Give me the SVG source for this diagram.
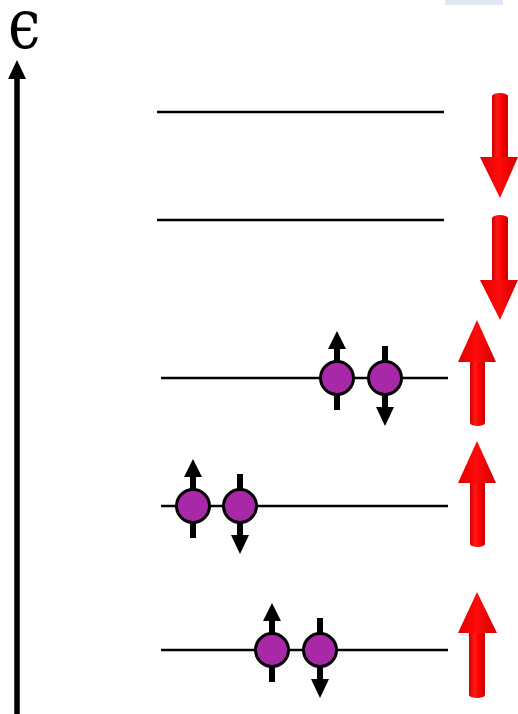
<svg xmlns="http://www.w3.org/2000/svg" width="518" height="714" viewBox="0 0 518 714">
<style>
.lvl{stroke:#000;stroke-width:2.5;fill:none}
.el{fill:#a829a8;stroke:#000;stroke-width:3}
.bar{stroke:#000;stroke-width:6;fill:none}
.hd{fill:#000}
.shaft{fill:url(#gs)}
.head{fill:url(#gh)}
</style>
<defs>
<linearGradient id="gs" x1="0" y1="0" x2="1" y2="0">
<stop offset="0" stop-color="#d00000"/>
<stop offset="0.35" stop-color="#ff1a1a"/>
<stop offset="0.6" stop-color="#ff0000"/>
<stop offset="1" stop-color="#c80000"/>
</linearGradient>
<linearGradient id="gh" x1="0" y1="0" x2="1" y2="0">
<stop offset="0" stop-color="#e00000"/>
<stop offset="0.5" stop-color="#ff0a0a"/>
<stop offset="1" stop-color="#d20000"/>
</linearGradient>
</defs>
<rect x="445" y="0" width="58" height="5" fill="#dfe8f3"/>
<g id="axis">
<line x1="17" y1="76" x2="17" y2="714" stroke="#000" stroke-width="5.5"/>
<polygon points="17,60 8,79 26,79" fill="#000"/>
<text x="8" y="40" transform="scale(1,1.2)" font-family="DejaVu Serif, serif" font-size="58">ϵ</text>
</g>
<g id="connectors">
<line class="lvl" x1="157" y1="112" x2="444" y2="112"/>
<line class="lvl" x1="157" y1="220" x2="444" y2="220"/>
<line class="lvl" x1="161" y1="378" x2="448" y2="378"/>
<line class="lvl" x1="161" y1="506" x2="448" y2="506"/>
<line class="lvl" x1="161" y1="650" x2="448" y2="650"/>
</g>
<g id="e3up"><line class="bar" x1="337" y1="346" x2="337" y2="410"/><polygon class="hd" points="337,331 328,349 346,349"/><circle class="el" cx="337" cy="378" r="16.5"/></g>
<g id="e3dn"><line class="bar" x1="385" y1="346" x2="385" y2="410"/><polygon class="hd" points="385,426 376,407 394,407"/><circle class="el" cx="385" cy="378" r="16.5"/></g>
<g id="e4up"><line class="bar" x1="193" y1="474" x2="193" y2="538"/><polygon class="hd" points="193,459 184,477 202,477"/><circle class="el" cx="193" cy="506" r="16.5"/></g>
<g id="e4dn"><line class="bar" x1="240" y1="474" x2="240" y2="538"/><polygon class="hd" points="240,554 231,535 249,535"/><circle class="el" cx="240" cy="506" r="16.5"/></g>
<g id="e5up"><line class="bar" x1="272" y1="618" x2="272" y2="682"/><polygon class="hd" points="272,603 263,621 281,621"/><circle class="el" cx="272" cy="650" r="16.5"/></g>
<g id="e5dn"><line class="bar" x1="320" y1="618" x2="320" y2="682"/><polygon class="hd" points="320,698 311,679 329,679"/><circle class="el" cx="320" cy="650" r="16.5"/></g>
<g id="spin1"><path class="shaft" d="M492,96 A8,3 0 0 1 508,96 L508,160 L492,160 Z"/><polygon class="head" points="480,157 518,157 500,198"/></g>
<g id="spin2"><path class="shaft" d="M492,218 A8,3 0 0 1 508,218 L508,283 L492,283 Z"/><polygon class="head" points="480,280 518,280 500,320"/></g>
<g id="spin3"><path class="shaft" d="M470,358 L485,358 L485,423 A7.5,3 0 0 1 470,423 Z"/><polygon class="head" points="477,320 458,362 496,362"/></g>
<g id="spin4"><path class="shaft" d="M470,479 L485,479 L485,544 A7.5,3 0 0 1 470,544 Z"/><polygon class="head" points="477,441 458,483 496,483"/></g>
<g id="spin5"><path class="shaft" d="M469,629 L485,629 L485,695 A8,3 0 0 1 469,695 Z"/><polygon class="head" points="477,592 458,633 497,633"/></g>
</svg>
